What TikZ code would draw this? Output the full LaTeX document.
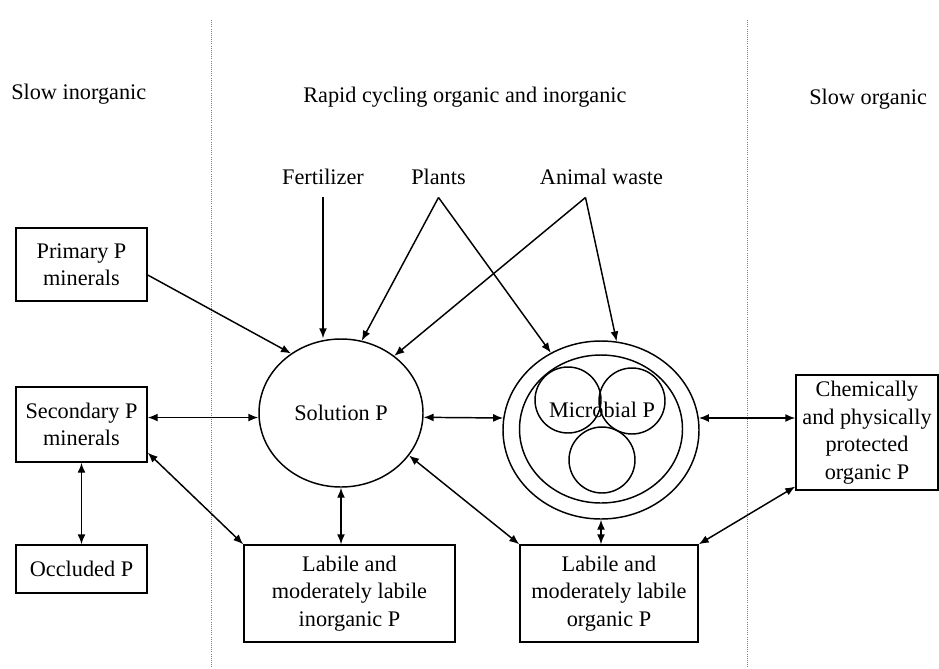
\documentclass[tikz,border=0pt]{standalone}
\usepackage{fontspec}
\setmainfont{Liberation Serif}
\usepackage{tikz}
\usetikzlibrary{arrows.meta}
\usetikzlibrary{shapes.geometric}

\begin{document}
\begin{tikzpicture}[x=0.75pt,y=0.75pt,yscale=-1,xscale=1,
  every node/.style={font=\fontsize{16.7}{20.6}\selectfont, inner sep=0.75pt},
  pbox/.style={draw, line width=1.1pt, align=center},
  pool/.style={draw, line width=1.1pt, shape=ellipse, inner sep=0pt},
  cell/.style={draw, line width=1.1pt, shape=circle, inner sep=0pt, minimum size=49.5pt},
  arr/.style={line width=1.1pt, -{Latex[length=7.5pt,width=6pt]}},
  dbl/.style={line width=1.1pt, {Latex[length=7.5pt,width=6pt]}-{Latex[length=7.5pt,width=6pt]}},
  divider/.style={gray, densely dotted, line width=0.6pt}]
\useasboundingbox (0,0) rectangle (939,668);

%Straight Lines (zone dividers)
\draw [divider] (211,20) -- (211,668);
\draw [divider] (747,20) -- (747,668);

% Text Node (zone titles)
\node (hslowin) [anchor=base west] at (10,99) {Slow inorganic};
\node (hrapid) [anchor=base west] at (302,102) {Rapid cycling organic and inorganic};
\node (hslowor) [anchor=base west] at (808,104) {Slow organic};

% Text Node (inputs)
\node (fert) [anchor=base] at (323,184) {Fertilizer};
\node (plants) [anchor=base] at (438.5,184) {Plants};
\node (waste) [anchor=base] at (601.5,184) {Animal waste};
\coordinate (plantstip) at ([yshift=9pt]plants.south);
\coordinate (wastetip) at ([xshift=-12pt,yshift=9pt]waste.south);

%Shape: Rectangle (inorganic pools)
\node (prim) [pbox, minimum width=98.25pt, minimum height=54.75pt] at (81.5,264.5) {Primary P\\minerals};
\node (sec) [pbox, minimum width=98.25pt, minimum height=56.25pt] at (81.5,424.5) {Secondary P\\minerals};
\node (occ) [pbox, minimum width=98.25pt, minimum height=36pt] at (81.5,569) {Occluded P};
\node (labin) [pbox, minimum width=158.25pt, minimum height=72.75pt] at (349.5,593.5) {Labile and\\moderately labile\\inorganic P};

%Shape: Rectangle (organic pools)
\node (labor) [pbox, minimum width=133.5pt, minimum height=72.75pt] at (609,593.5) {Labile and\\moderately labile\\organic P};
\node (chem) [pbox, minimum width=106.5pt, minimum height=86.25pt] at (867,432.5) {Chemically\\and physically\\protected\\organic P};

%Shape: Ellipse (solution)
\node (sol) [pool, minimum width=123pt, minimum height=111pt] at (341,413) {Solution P};

%Shape: Ellipse (microbial)
\node (mic) [pool, minimum width=147pt, minimum height=133.5pt] at (601,430) {};
\node (micin) [pool, minimum width=122.25pt, minimum height=111pt] at (601,429) {};
\node (cellA) [cell] at (568,400) {};
\node (cellB) [cell] at (632,401) {};
\node (cellC) [cell] at (602,460) {};
\node (mictxt) at (602,410) {Microbial P};

%Straight Lines (inputs)
\draw [arr, shorten <=9pt] (fert.south) -- (sol.north -| fert.south);
\draw [arr] (plantstip) -- (sol.74);
\draw [arr] (plantstip) -- (mic.123.5);
\draw [arr] (wastetip) -- (sol.47);
\draw [arr] (wastetip) -- (mic.80);
\draw [arr] (prim.-9) -- (sol.130);

%Straight Lines (exchanges)
\draw [dbl] (sec.6) -- (sec.6 -| sol.west);
\draw [dbl] (sec.south) -- (occ.north);
\draw [dbl] (sec.-23.5) -- (labin.north west);
\draw [dbl] (sol.south) -- (sol.south |- labin.north);
\draw [dbl] (sol.-3.5) -- (mic.173);
\draw [dbl] (sol.-32) -- (labor.north west);
\draw [dbl] (mic.south) -- (mic.south |- labor.north);
\draw [dbl] (mic.7) -- (mic.7 -| chem.west);
\draw [dbl] (chem.-143.5) -- (labor.north east);

\end{tikzpicture}
\end{document}
